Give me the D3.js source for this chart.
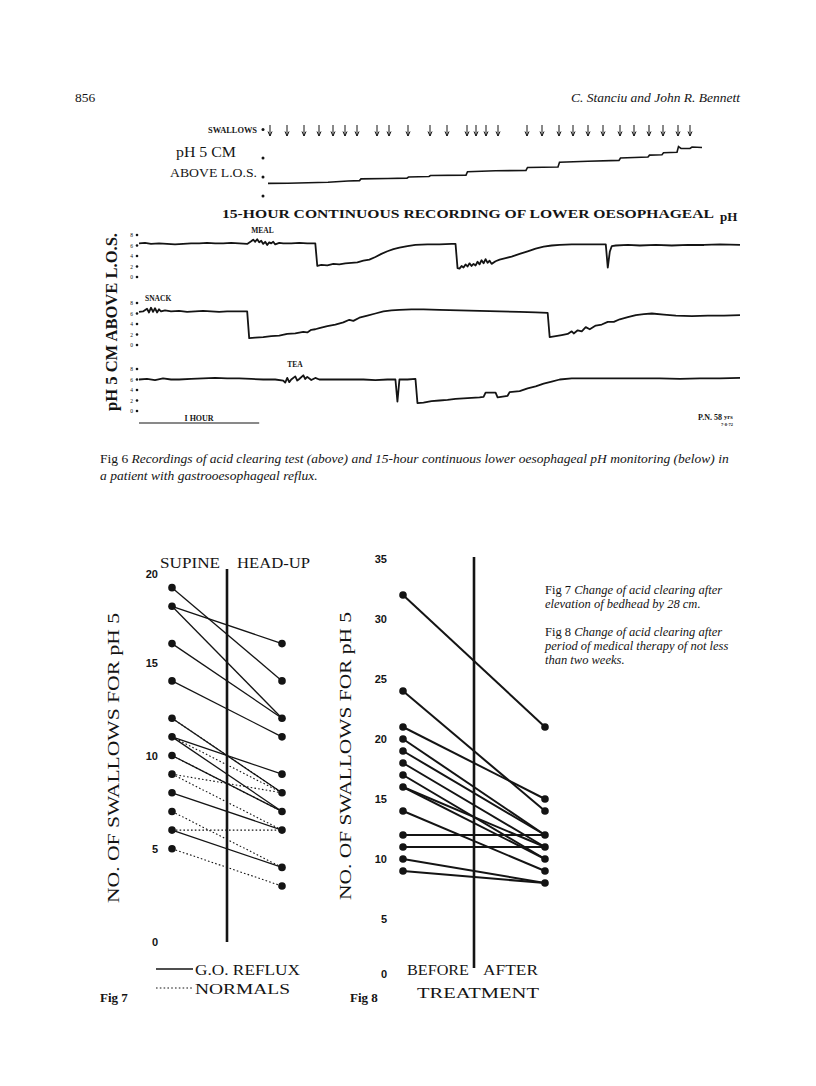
<!DOCTYPE html>
<html lang="en">
<head>
<meta charset="UTF-8">
<title>Acid clearing - Figs 6, 7 and 8</title>
<script src="https://d3js.org/d3.v7.min.js"></script>
<style>
  body { margin: 0; background: #fff; }
  svg { display: block; }
  .serif { font-family: "Liberation Serif", "DejaVu Serif", serif; fill: #141414; }
  .sans { font-family: "Liberation Sans", Arial, sans-serif; font-weight: bold; fill: #141414; }
</style>
</head>
<body>
<div id="page"></div>
<script>
// ---------- data ----------
// Fig 6 (above): acid clearing test, seconds from start
const swallowTimes = [4, 38, 72, 102, 130, 154, 178, 218, 242, 280, 324, 358, 398, 416, 436, 460,
                      518, 548, 582, 610, 640, 670, 704, 732, 762, 790, 820, 844];
const clearingTrace = [[0,1.33],[40,1.35],[80,1.4],[120,1.45],[160,1.58],[183,1.62],[186,1.8],[240,1.85],
  [278,1.88],[281,2.0],[322,2.05],[325,2.15],[396,2.2],[399,2.55],[455,2.65],[516,2.7],[519,3.0],
  [580,3.05],[583,3.55],[640,3.65],[702,3.75],[705,4.0],[760,4.1],[763,4.3],[788,4.35],[791,4.55],
  [818,4.6],[821,5.2],[826,5.0],[844,5.0],[848,5.15],[868,5.1]];
const clearingTicks = [0, 2, 4, 7];

// Fig 6 (below): 15-hour record, three 5-hour rows, [minute, pH]
const row1 = [[0,6.4],[3,6.5],[6,6.3],[10,6.4],[14,6.3],[18,6.2],[22,6.3],[26,6.4],[30,6.4],[34,6.5],[38,6.4],
  [42,6.4],[46,6.5],[50,6.4],[54,6.3],[56,6.8],[57,7.1],[58,6.7],[59,7.2],[60,6.6],[61,6.9],[62,6.3],[63,6.7],
  [64,6.1],[65,6.6],[66,6.4],[67,6.7],[68,6.2],[70,6.5],[72,6.4],[76,6.4],[80,6.5],[84,6.4],[88,6.4],
  [89,2.1],[91,2.3],[94,2.2],[97,2.5],[100,2.4],[103,2.6],[106,2.7],[109,2.8],[112,3.1],[115,3.3],[118,3.8],
  [121,4.4],[124,4.9],[127,5.3],[130,5.6],[134,5.9],[138,6.1],[144,6.2],[150,6.2],[156,6.3],[158,6.3],
  [159,1.7],[160,1.6],[161,2.1],[162,1.8],[163,2.4],[164,2.0],[165,2.6],[166,2.1],[167,2.5],[168,2.2],
  [169,2.9],[170,2.4],[171,3.2],[172,2.6],[173,3.4],[174,2.7],[175,3.1],[176,2.5],[178,3.0],[180,3.3],
  [183,3.6],[186,3.9],[190,4.4],[194,4.9],[198,5.4],[202,5.8],[206,6.0],[210,6.1],[216,6.2],[222,6.2],
  [228,6.2],[233,6.2],[234,1.8],[235,4.8],[236,5.9],[238,6.0],[244,6.1],[250,6.0],[258,6.1],[266,6.0],
  [274,6.1],[282,6.1],[290,6.2],[300,6.1]];
const row2 = [[0,6.3],[2,6.4],[4,6.9],[5,6.2],[6,7.1],[7,6.3],[8,7.0],[9,6.2],[10,6.8],[11,6.4],[13,6.6],
  [16,6.4],[20,6.5],[24,6.3],[28,6.4],[32,6.5],[36,6.4],[40,6.3],[44,6.4],[48,6.4],[52,6.4],[54,6.4],
  [55,1.3],[58,1.4],[62,1.5],[66,1.7],[70,1.8],[74,2.1],[78,2.2],[82,2.5],[84,2.4],[86,2.9],[88,3.0],
  [90,3.2],[94,3.6],[98,3.9],[102,4.3],[105,4.8],[107,4.6],[110,5.2],[114,5.6],[118,6.0],[122,6.4],
  [126,6.6],[130,6.7],[136,6.8],[142,6.8],[150,6.7],[160,6.6],[170,6.5],[180,6.4],[190,6.3],[198,6.2],
  [204,6.1],[205,1.5],[208,1.7],[211,1.9],[214,2.1],[216,2.6],[217,2.2],[219,2.8],[221,2.6],[223,3.4],
  [225,3.0],[228,3.7],[231,3.9],[234,4.4],[237,4.4],[240,4.9],[244,5.3],[248,5.7],[252,5.9],[256,6.0],
  [262,5.8],[268,5.6],[276,5.5],[284,5.6],[292,5.6],[300,5.7]];
const row3 = [[0,6.0],[4,6.1],[8,5.9],[12,6.2],[16,6.0],[20,6.0],[26,6.1],[32,6.2],[38,6.3],[44,6.2],
  [50,6.2],[56,6.1],[62,6.0],[68,6.0],[72,5.8],[73,5.4],[74,6.3],[75,5.5],[76,6.0],[78,6.6],[79,5.8],
  [80,6.1],[82,6.8],[83,6.1],[84,6.5],[86,5.9],[88,6.3],[90,6.0],[94,6.0],[100,6.0],[106,6.0],[112,6.0],
  [118,5.9],[124,6.0],[128,6.0],[129,1.8],[130,6.0],[134,6.0],[138,6.1],[139,1.5],[142,1.6],[146,1.9],
  [150,2.0],[154,2.1],[158,2.3],[162,2.4],[166,2.5],[170,2.6],[172,2.7],[173,3.5],[178,3.5],[179,2.6],
  [184,2.9],[185,3.6],[190,3.8],[194,4.3],[198,4.7],[202,5.2],[206,5.6],[210,6.0],[216,6.2],[224,6.2],
  [232,6.2],[240,6.2],[250,6.2],[260,6.2],[270,6.1],[280,6.2],[290,6.2],[300,6.3]];
const rowEvents = ["MEAL", "SNACK", "TEA"];
const rowEventTimes = [56, 3, 74];
const phTicks = [0, 2, 4, 6, 8];

// Fig 7: swallows to clear acid, supine vs head-up
const fig7Supine = [19, 18, 18, 16, 14, 12, 11, 11, 10, 8, 6,   12, 11, 10, 9, 9, 7, 6, 5];
const fig7HeadUp = [14, 16, 12, 12, 11, 8, 9, 7, 7, 6, 4,       8, 8, 7, 8, 6, 4, 6, 3];
const fig7Group  = ["reflux","reflux","reflux","reflux","reflux","reflux","reflux","reflux","reflux","reflux","reflux",
                    "normal","normal","normal","normal","normal","normal","normal","normal"];
const fig7Ticks = [0, 5, 10, 15, 20];

// Fig 8: before vs after treatment
const fig8Before = [32, 24, 21, 20, 19, 18, 17, 16, 16, 14, 12, 11, 10, 9];
const fig8After  = [21, 14, 15, 12, 12, 11, 10, 11, 10, 9, 12, 11, 8, 8];
const fig8Ticks = [0, 5, 10, 15, 20, 25, 30, 35];

// ---------- page ----------
const W = 816, H = 1086;
const svg = d3.select("#page").append("svg").attr("width", W).attr("height", H);
const ink = "#141414";

function txt(x, y, s, size, opts = {}) {
  const t = svg.append("text").attr("class", opts.sans ? "sans" : "serif")
    .attr("x", x).attr("y", y).attr("font-size", size).text(s);
  if (opts.anchor) t.attr("text-anchor", opts.anchor);
  if (opts.italic) t.attr("font-style", "italic");
  if (opts.bold) t.attr("font-weight", "bold");
  if (opts.len) t.attr("textLength", opts.len).attr("lengthAdjust", "spacingAndGlyphs");
  return t;
}

// running head
txt(75, 102, "856", 13.5);
txt(740, 102, "C. Stanciu and John R. Bennett", 13.5, {italic: true, anchor: "end"});

// ---- Fig 6, acid clearing test ----
const xClear = d3.scaleLinear().domain([0, 868]).range([268, 702]);
const yClear = d3.scaleLinear().domain([0, 4]).range([196, 158]);

txt(257, 133, "SWALLOWS", 7.5, {bold: true, anchor: "end", len: 49});
txt(176, 157, "pH  5  CM", 14, {len: 60});
txt(170, 177, "ABOVE L.O.S.", 13, {len: 87});

svg.append("g").selectAll("circle").data(clearingTicks).join("circle")
  .attr("cx", 263).attr("cy", d => yClear(d)).attr("r", 1.5).attr("fill", ink);

const arrows = svg.append("g").attr("stroke", ink).attr("stroke-width", 1).attr("fill", "none");
arrows.selectAll("path").data(swallowTimes).join("path")
  .attr("d", d => {
    const x = xClear(d);
    return `M${x},125 L${x},136 M${x - 2},131.5 L${x},136 L${x + 2},131.5`;
  });

svg.append("path").datum(clearingTrace)
  .attr("fill", "none").attr("stroke", ink).attr("stroke-width", 1.6)
  .attr("d", d3.line().x(d => xClear(d[0])).y(d => yClear(d[1])));

// ---- Fig 6, 15-hour record ----
txt(222, 218, "15-HOUR  CONTINUOUS  RECORDING  OF  LOWER  OESOPHAGEAL", 11.5, {bold: true, len: 492});
txt(720, 221, "pH", 13, {bold: true});

const xRow = d3.scaleLinear().domain([0, 300]).range([139, 740]);
const rowBottoms = [277, 345, 411];
const rows = [row1, row2, row3];

rows.forEach((rowData, i) => {
  const y = d3.scaleLinear().domain([0, 8]).range([rowBottoms[i], rowBottoms[i] - 42]);
  const g = svg.append("g");
  g.selectAll("circle").data(phTicks).join("circle")
    .attr("cx", 137).attr("cy", d => y(d)).attr("r", 1.3).attr("fill", ink);
  g.selectAll("text").data(phTicks).join("text")
    .attr("class", "serif").attr("x", 133).attr("y", d => y(d) + 2)
    .attr("font-size", 5.5).attr("text-anchor", "end").text(d => d);
  g.append("path").datum(rowData)
    .attr("fill", "none").attr("stroke", ink).attr("stroke-width", 1.8).attr("stroke-linejoin", "round")
    .attr("d", d3.line().x(d => xRow(d[0])).y(d => y(d[1])));
  txt(xRow(rowEventTimes[i]), y(8) - 2, rowEvents[i], 7.5, {bold: true});
});

// rotated axis title for the three rows
txt(0, 0, "pH 5 CM ABOVE L.O.S.", 17, {anchor: "middle", len: 178})
  .attr("transform", "translate(117,322) rotate(-90)").attr("font-weight", 600);

// 1 hour bar
svg.append("line").attr("x1", xRow(0)).attr("x2", xRow(60)).attr("y1", 423).attr("y2", 423)
  .attr("stroke", ink).attr("stroke-width", 1.2);
txt(xRow(30), 421, "I  HOUR", 8, {bold: true, anchor: "middle"});
txt(722, 420, "P.N. 58", 8, {bold: true, anchor: "end"});
txt(724, 419, "yrs", 6.5, {bold: true});
txt(733, 426, "7·8·72", 4.5, {bold: true, anchor: "end"});

// caption
const cap6 = txt(100, 463, "", 13.5);
cap6.append("tspan").text("Fig 6    ");
cap6.append("tspan").attr("font-style", "italic")
  .text("Recordings of acid clearing test (above) and 15-hour continuous lower oesophageal pH monitoring (below) in");
txt(100, 480, "a patient with gastrooesophageal reflux.", 13.5, {italic: true});

// ---- Fig 7 ----
const y7 = d3.scaleLinear().domain([0, 20]).range([942, 569]);
const x7L = 172, x7R = 282, x7Mid = 227;

svg.append("g").attr("transform", "translate(158,0)")
  .call(d3.axisLeft(y7).tickValues(fig7Ticks).tickSize(0).tickPadding(0))
  .call(g => g.select(".domain").remove())
  .call(g => g.selectAll("text").attr("class", "sans").attr("font-size", 11)
    .attr("fill", ink).attr("dy", (d) => d === 20 ? "0.75em" : "0.35em"));

svg.append("line").attr("x1", x7Mid).attr("x2", x7Mid).attr("y1", y7(20)).attr("y2", y7(0))
  .attr("stroke", ink).attr("stroke-width", 2.6);

const pairs7 = fig7Supine.map((v, i) => ({a: v, b: fig7HeadUp[i], g: fig7Group[i]}));
svg.append("g").selectAll("line").data(pairs7).join("line")
  .attr("x1", x7L).attr("x2", x7R)
  .attr("y1", d => y7(d.a)).attr("y2", d => y7(d.b))
  .attr("stroke", ink)
  .attr("stroke-width", d => d.g === "reflux" ? 1.3 : 1.1)
  .attr("stroke-dasharray", d => d.g === "reflux" ? null : "1.6,2.2");

svg.append("g").selectAll("circle").data(Array.from(new Set(fig7Supine))).join("circle")
  .attr("cx", x7L).attr("cy", d => y7(d)).attr("r", 3.8).attr("fill", ink);
svg.append("g").selectAll("circle").data(Array.from(new Set(fig7HeadUp))).join("circle")
  .attr("cx", x7R).attr("cy", d => y7(d)).attr("r", 3.8).attr("fill", ink);

txt(160, 568, "SUPINE", 15, {len: 60});
txt(237, 568, "HEAD-UP", 15, {len: 73});

txt(0, 0, "NO. OF SWALLOWS FOR pH 5", 17, {anchor: "middle", len: 290})
  .attr("transform", "translate(119,758) rotate(-90)");

// legend
svg.append("line").attr("x1", 156).attr("x2", 193).attr("y1", 969).attr("y2", 969)
  .attr("stroke", ink).attr("stroke-width", 1.3);
svg.append("line").attr("x1", 156).attr("x2", 193).attr("y1", 988).attr("y2", 988)
  .attr("stroke", ink).attr("stroke-width", 1.1).attr("stroke-dasharray", "1.6,2.2");
txt(195, 975, "G.O. REFLUX", 15, {len: 105});
txt(195, 994, "NORMALS", 15, {len: 95});
txt(100, 1002, "Fig 7", 13, {bold: true});

// ---- Fig 8 ----
const y8 = d3.scaleLinear().domain([0, 35]).range([979, 559]);
const x8L = 403, x8R = 545, x8Mid = 474;

svg.append("g").attr("transform", "translate(387,0)")
  .call(d3.axisLeft(y8).tickValues(fig8Ticks).tickSize(0).tickPadding(0))
  .call(g => g.select(".domain").remove())
  .call(g => g.selectAll("text").attr("class", "sans").attr("font-size", 11)
    .attr("fill", ink).attr("dy", d => d === 0 ? "-0.15em" : "0.35em"));

svg.append("line").attr("x1", x8Mid).attr("x2", x8Mid).attr("y1", 557).attr("y2", 968)
  .attr("stroke", ink).attr("stroke-width", 2.6);

const pairs8 = fig8Before.map((v, i) => ({a: v, b: fig8After[i]}));
svg.append("g").selectAll("line").data(pairs8).join("line")
  .attr("x1", x8L).attr("x2", x8R)
  .attr("y1", d => y8(d.a)).attr("y2", d => y8(d.b))
  .attr("stroke", ink).attr("stroke-width", 2);

svg.append("g").selectAll("circle").data(Array.from(new Set(fig8Before))).join("circle")
  .attr("cx", x8L).attr("cy", d => y8(d)).attr("r", 3.8).attr("fill", ink);
svg.append("g").selectAll("circle").data(Array.from(new Set(fig8After))).join("circle")
  .attr("cx", x8R).attr("cy", d => y8(d)).attr("r", 3.8).attr("fill", ink);

txt(0, 0, "NO. OF SWALLOWS FOR pH 5", 17, {anchor: "middle", len: 288})
  .attr("transform", "translate(351,756) rotate(-90)");

txt(407, 975, "BEFORE", 15, {len: 62});
txt(483, 975, "AFTER", 15, {len: 55});
txt(417, 998, "TREATMENT", 15, {len: 122});
txt(350, 1002, "Fig 8", 13, {bold: true});

// side captions
const c7 = txt(545, 594, "", 12.5);
c7.append("tspan").text("Fig 7   ");
c7.append("tspan").attr("font-style", "italic").text("Change of acid clearing after");
txt(545, 608, "elevation of bedhead by 28 cm.", 12.5, {italic: true});
const c8 = txt(545, 636, "", 12.5);
c8.append("tspan").text("Fig 8   ");
c8.append("tspan").attr("font-style", "italic").text("Change of acid clearing after");
txt(545, 650, "period of medical therapy of not less", 12.5, {italic: true});
txt(545, 664, "than two weeks.", 12.5, {italic: true});
</script>
</body>
</html>
